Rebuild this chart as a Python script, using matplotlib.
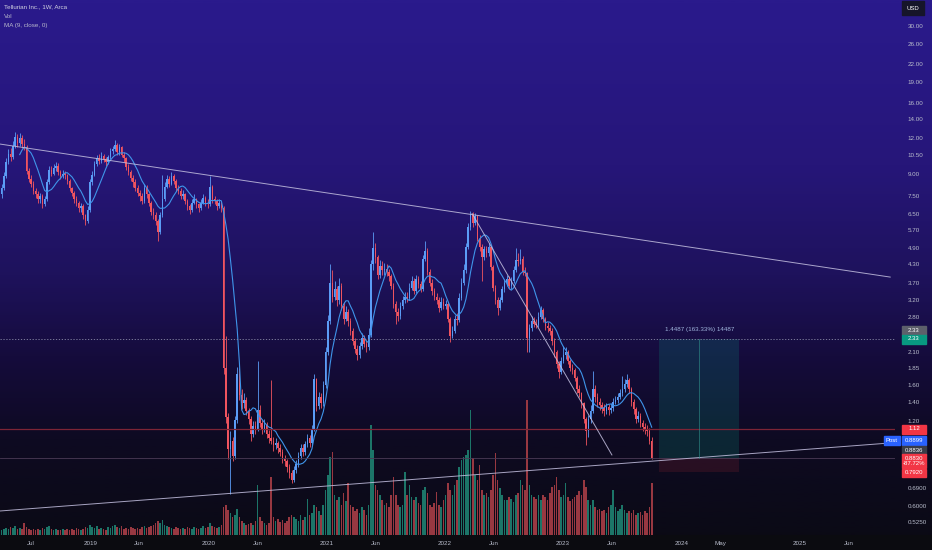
import numpy as np
import pandas as pd
import matplotlib
matplotlib.use('Agg')
import matplotlib.pyplot as plt
from matplotlib.colors import LinearSegmentedColormap
from matplotlib.patches import Rectangle
from matplotlib.ticker import NullLocator

plt.rcParams['font.family'] = ['Liberation Sans', 'DejaVu Sans']

# weekly bars, TELL, first bar week of 2018-04-02
start = '2018-04-02'
first_open = 7.6
closes = [
    8.0, 8.8, 9.9, 10.6, 10.3, 11.3, 12.1, 11.6, 12.0, 11.5,
    11.2, 9.2, 8.6, 8.3, 7.8, 7.6, 7.3, 7.5, 7.0, 7.3,
    8.4, 9.3, 9.0, 9.4, 9.6, 9.1, 8.8, 9.0, 8.9, 8.5,
    8.0, 7.7, 7.3, 7.1, 6.8, 6.9, 6.4, 6.1, 6.7, 8.4,
    8.9, 9.7, 10.2, 10.0, 10.4, 10.1, 9.9, 10.3, 10.8, 11.0,
    11.4, 10.7, 11.2, 10.5, 10.2, 9.5, 9.1, 8.7, 8.4, 8.0,
    7.7, 7.5, 7.2, 8.0, 7.6, 7.1, 6.6, 6.4, 6.1, 5.6,
    6.4, 7.3, 8.1, 8.6, 8.3, 8.8, 8.5, 8.0, 7.8, 7.5,
    7.6, 7.2, 6.9, 6.7, 7.1, 7.3, 7.0, 6.8, 7.1, 7.4,
    7.1, 7.0, 8.1, 7.3, 7.2, 6.9, 7.1, 6.8, 1.85, 1.24,
    0.95, 1.02, 0.90, 1.21, 1.75, 1.48, 1.38, 1.42, 1.30, 1.22,
    1.08, 1.15, 1.12, 1.31, 1.18, 1.12, 1.16, 1.08, 1.04, 1.02,
    0.98, 1.00, 0.96, 0.93, 0.88, 0.86, 0.82, 0.78, 0.74, 0.80,
    0.84, 0.90, 0.96, 0.93, 0.99, 1.04, 1.00, 1.12, 1.68, 1.35,
    1.45, 1.38, 1.60, 2.10, 2.70, 3.70, 3.30, 3.50, 3.20, 3.60,
    3.05, 2.75, 2.90, 2.70, 2.50, 2.30, 2.15, 2.05, 2.20, 2.35,
    2.25, 2.18, 2.42, 4.30, 4.90, 4.55, 3.95, 4.25, 4.10, 4.15,
    4.05, 3.90, 3.60, 3.10, 2.90, 2.82, 3.05, 3.20, 3.30, 3.25,
    3.55, 3.75, 3.45, 3.80, 3.65, 3.50, 4.50, 4.80, 4.05, 3.70,
    3.45, 3.30, 3.20, 3.00, 3.15, 3.05, 3.10, 2.75, 2.40, 2.50,
    2.75, 2.72, 3.25, 3.70, 4.10, 4.95, 5.80, 6.40, 6.00, 6.35,
    5.30, 4.95, 4.55, 4.85, 4.70, 4.95, 4.20, 3.55, 3.20, 3.00,
    3.20, 3.50, 3.70, 3.80, 3.60, 3.75, 4.10, 4.45, 4.40, 4.50,
    4.05, 4.00, 2.35, 2.55, 2.70, 2.65, 2.62, 2.80, 2.95, 2.75,
    2.60, 2.55, 2.50, 2.30, 2.10, 1.90, 1.78, 1.95, 2.05, 2.10,
    1.95, 1.85, 1.82, 1.70, 1.55, 1.50, 1.38, 1.22, 1.10, 1.22,
    1.30, 1.55, 1.45, 1.40, 1.36, 1.33, 1.30, 1.34, 1.31, 1.33,
    1.40, 1.42, 1.46, 1.50, 1.55, 1.62, 1.67, 1.55, 1.40, 1.32,
    1.22, 1.25, 1.18, 1.14, 1.12, 1.10, 1.02, 0.8836,
]
highs = [
    8.3, 9.1, 10.2, 11.0, 11.1, 11.7, 12.6, 12.4, 12.5, 12.3,
    11.9, 11.4, 9.4, 8.9, 8.5, 8.0, 7.8, 7.7, 7.6, 7.5,
    8.6, 9.6, 9.6, 9.7, 9.9, 9.8, 9.3, 9.3, 9.2, 9.0,
    8.6, 8.1, 7.8, 7.5, 7.2, 7.1, 7.0, 6.5, 6.9, 8.6,
    9.2, 10.0, 10.5, 10.6, 10.7, 10.6, 10.3, 10.5, 11.1, 11.3,
    11.8, 11.6, 11.5, 11.3, 10.7, 10.3, 9.7, 9.3, 8.9, 8.6,
    8.2, 7.9, 7.7, 8.3, 8.2, 7.7, 7.2, 6.8, 6.6, 6.2,
    6.6, 8.9, 8.4, 8.9, 8.8, 9.1, 9.0, 8.6, 8.2, 8.0,
    7.9, 7.7, 7.3, 7.0, 7.3, 7.6, 7.4, 7.1, 7.3, 7.6,
    7.5, 7.3, 8.8, 8.2, 7.5, 7.3, 7.3, 7.2, 6.9, 2.4,
    1.28, 1.10, 1.05, 1.25, 1.86, 1.84, 1.55, 1.50, 1.45, 1.33,
    1.25, 1.20, 1.20, 1.95, 1.36, 1.22, 1.22, 1.19, 1.11, 1.67,
    1.05, 1.04, 1.02, 0.99, 0.95, 0.91, 0.88, 0.84, 0.80, 0.83,
    0.87, 0.93, 0.99, 0.99, 1.02, 1.08, 1.07, 1.16, 1.75, 1.70,
    1.52, 1.50, 1.66, 2.18, 2.85, 4.30, 4.10, 3.75, 3.60, 3.85,
    3.70, 3.15, 3.05, 2.98, 2.78, 2.56, 2.36, 2.22, 2.28, 2.45,
    2.42, 2.32, 2.55, 4.45, 5.60, 5.10, 4.65, 4.45, 4.40, 4.35,
    4.30, 4.15, 3.98, 3.68, 3.18, 3.00, 3.15, 3.32, 3.42, 3.42,
    3.68, 3.90, 3.85, 3.95, 3.90, 3.75, 4.65, 5.20, 4.90, 4.15,
    3.80, 3.55, 3.40, 3.28, 3.28, 3.25, 3.22, 3.15, 2.80, 2.60,
    2.85, 2.88, 3.40, 3.85, 4.30, 5.10, 6.00, 6.62, 6.60, 6.55,
    6.40, 5.45, 5.05, 5.00, 5.00, 5.10, 5.00, 4.28, 3.62, 3.28,
    3.30, 3.60, 3.82, 3.95, 3.90, 3.88, 4.25, 4.90, 4.70, 4.85,
    4.60, 4.20, 4.05, 2.65, 2.82, 2.80, 2.75, 2.90, 3.05, 3.00,
    2.80, 2.68, 2.62, 2.55, 2.35, 2.14, 1.95, 2.02, 2.20, 2.18,
    2.14, 1.98, 1.90, 1.85, 1.72, 1.60, 1.52, 1.40, 1.24, 1.26,
    1.36, 1.80, 1.60, 1.50, 1.44, 1.40, 1.37, 1.38, 1.37, 1.38,
    1.44, 1.47, 1.50, 1.55, 1.72, 1.68, 1.75, 1.70, 1.58, 1.43,
    1.34, 1.30, 1.28, 1.21, 1.18, 1.16, 1.13, 1.05,
]
lows = [
    7.4, 7.9, 8.7, 9.7, 10.0, 10.1, 11.1, 11.2, 11.3, 11.1,
    10.9, 9.0, 8.4, 8.1, 7.6, 7.4, 7.1, 7.1, 6.8, 6.9,
    7.2, 8.3, 8.8, 8.9, 9.2, 8.9, 8.6, 8.7, 8.6, 8.3,
    7.8, 7.5, 7.1, 6.9, 6.6, 6.6, 6.2, 5.9, 6.0, 6.6,
    8.2, 8.8, 9.6, 9.7, 9.8, 9.9, 9.6, 9.7, 10.1, 10.6,
    10.8, 10.5, 10.5, 10.3, 9.9, 9.3, 8.9, 8.5, 8.1, 7.8,
    7.5, 7.2, 7.0, 7.1, 7.4, 6.9, 6.4, 6.2, 5.9, 5.2,
    5.5, 6.3, 7.2, 8.0, 8.1, 8.2, 8.3, 7.8, 7.6, 7.3,
    7.3, 7.0, 6.7, 6.5, 6.6, 7.0, 6.8, 6.6, 6.7, 7.0,
    6.9, 6.8, 6.9, 7.1, 7.0, 6.7, 6.8, 6.6, 1.75, 1.18,
    0.88, 0.66, 0.86, 0.88, 1.18, 1.42, 1.32, 1.33, 1.26, 1.17,
    1.02, 1.05, 1.08, 1.10, 1.14, 1.08, 1.09, 1.04, 1.00, 0.99,
    0.94, 0.95, 0.92, 0.90, 0.85, 0.83, 0.79, 0.75, 0.72, 0.73,
    0.78, 0.82, 0.88, 0.90, 0.91, 0.97, 0.97, 0.98, 1.10, 1.30,
    1.32, 1.33, 1.35, 1.56, 2.05, 2.65, 3.15, 3.20, 3.05, 3.10,
    2.95, 2.65, 2.70, 2.60, 2.42, 2.22, 2.08, 1.97, 2.00, 2.15,
    2.18, 2.10, 2.14, 2.38, 4.10, 4.35, 3.80, 3.85, 3.95, 3.95,
    3.90, 3.75, 3.50, 3.00, 2.65, 2.70, 2.76, 2.98, 3.12, 3.15,
    3.20, 3.48, 3.38, 3.40, 3.55, 3.42, 3.45, 4.40, 3.95, 3.60,
    3.35, 3.20, 3.10, 2.92, 2.95, 2.98, 2.98, 2.68, 2.28, 2.35,
    2.45, 2.62, 2.68, 3.20, 3.62, 4.00, 4.85, 5.70, 5.80, 5.90,
    5.20, 4.80, 3.75, 4.45, 4.55, 4.60, 4.10, 3.45, 3.10, 2.85,
    2.95, 3.15, 3.42, 3.60, 3.52, 3.52, 3.70, 4.05, 4.25, 4.30,
    3.95, 3.90, 2.10, 2.10, 2.50, 2.58, 2.55, 2.58, 2.75, 2.68,
    2.52, 2.48, 2.42, 2.22, 2.02, 1.84, 1.70, 1.75, 1.92, 1.98,
    1.90, 1.80, 1.76, 1.66, 1.50, 1.45, 1.33, 1.18, 0.98, 1.05,
    1.18, 1.28, 1.40, 1.34, 1.31, 1.28, 1.25, 1.27, 1.26, 1.28,
    1.30, 1.37, 1.39, 1.43, 1.47, 1.52, 1.58, 1.50, 1.35, 1.27,
    1.18, 1.19, 1.14, 1.10, 1.08, 1.06, 0.99, 0.875,
]
# weekly volume, millions of shares
volumes = [
    5, 6, 7, 6, 8, 7, 9, 6, 7, 6,
    12, 8, 6, 5, 6, 5, 6, 5, 7, 6,
    8, 9, 6, 5, 6, 5, 5, 6, 5, 6,
    5, 6, 5, 7, 6, 5, 6, 8, 7, 10,
    8, 7, 9, 6, 7, 6, 5, 8, 7, 9,
    10, 8, 7, 9, 6, 7, 6, 8, 7, 6,
    7, 6, 8, 9, 7, 8, 9, 10, 12, 14,
    12, 15, 10, 9, 8, 7, 6, 8, 7, 6,
    7, 6, 8, 7, 6, 8, 7, 6, 7, 9,
    7, 8, 12, 9, 8, 7, 8, 10, 28, 30,
    25, 22, 18, 20, 26, 18, 14, 12, 10, 11,
    12, 10, 14, 50, 18, 14, 12, 10, 12, 58,
    18, 14, 16, 13, 15, 12, 14, 18, 20, 18,
    16, 14, 20, 15, 18, 36, 20, 22, 30, 28,
    24, 20, 30, 45, 60, 78, 83, 40, 35, 38,
    30, 42, 34, 52, 30, 28, 24, 26, 22, 28,
    25, 20, 30, 110, 85, 50, 45, 40, 35, 30,
    32, 28, 40, 58, 40, 30, 28, 30, 63, 40,
    50, 38, 35, 38, 32, 30, 45, 48, 42, 30,
    28, 32, 43, 30, 28, 35, 40, 52, 45, 40,
    50, 55, 68, 75, 78, 80, 85, 125, 77, 60,
    55, 70, 45, 40, 42, 38, 45, 60, 82, 55,
    47, 40, 35, 35, 38, 36, 33, 40, 42, 55,
    50, 45, 135, 50, 40, 38, 36, 40, 35, 40,
    38, 35, 42, 48, 50, 58, 45, 38, 40, 52,
    38, 34, 36, 38, 40, 44, 40, 55, 48, 35,
    30, 35, 28, 25, 26, 24, 25, 22, 28, 30,
    45, 28, 24, 26, 30, 25, 22, 24, 22, 25,
    20, 22, 23, 20, 24, 22, 28, 52,
]

price_ticks = [30, 26, 22, 19, 16, 14, 12, 10.5, 9, 7.5, 6.5, 5.7, 4.9, 4.3,
               3.7, 3.2, 2.8, 2.1, 1.85, 1.6, 1.4, 1.2, 0.69, 0.6, 0.525]
time_ticks = ['2018-07-01', '2019-01-01', '2019-06-01', '2020-01-01', '2020-06-01',
              '2021-01-01', '2021-06-01', '2022-01-01', '2022-06-01', '2023-01-01',
              '2023-06-01', '2024-01-01', '2024-05-01', '2025-01-01', '2025-06-01']
time_labels = ['Jul', '2019', 'Jun', '2020', 'Jun', '2021', 'Jun', '2022', 'Jun',
               '2023', 'Jun', '2024', 'May', '2025', 'Jun']

# drawings
upper_line = (['2018-03-27', '2025-10-08'], [11.46, 3.87])
lower_line = (['2018-03-27', '2025-10-08'], [0.574, 1.0])
fall_line = (['2022-03-26', '2023-06-01'], [6.5, 0.907])
alert_level = 1.12
last_price = 0.8836
target, entry, stop = 2.33, 0.8830, 0.7920
pos_dates = ['2023-10-23', '2024-02-26', '2024-06-29']
pos_text = '1.4487 (163.33%) 14487'

W, H = 932, 550


def idx(d):
    return (pd.Timestamp(d) - pd.Timestamp(start)).days / 7


opens = [first_open] + closes[:-1]
x = np.arange(len(closes))
up = np.array(closes) >= np.array(opens)
ma = pd.Series(closes).rolling(9).mean()

fig = plt.figure(figsize=(W / 100, H / 100), dpi=100)

# gradient background
bg = fig.add_axes([0, 0, 1, 1])
bg.axis('off')
cmap = LinearSegmentedColormap.from_list('bg', [
    (0.0, '#2a1a8c'), (0.3, '#261679'), (0.5, '#1e125c'),
    (0.65, '#150c3c'), (0.8, '#0e0a22'), (1.0, '#0b0a14')])
bg.imshow(np.linspace(0, 1, 300).reshape(-1, 1), aspect='auto', cmap=cmap,
          extent=[0, 1, 0, 1])
bg.set_xlim(0, 1)
bg.set_ylim(0, 1)
bg.add_patch(Rectangle((0, 0), 1, 15 / H, color='#0b0b10', zorder=3))

rect = [0, 15 / H, 895 / W, 535 / H]
vax = fig.add_axes(rect)
ax = fig.add_axes(rect, sharex=vax)
ax.set_facecolor('none')
vax.set_facecolor('none')

# volume
vcol = np.where(up, '#1c7568', '#983841')
vax.bar(x, volumes, width=0.7, color=vcol, linewidth=0)
vax.set_ylim(0, 535)
vax.axis('off')

# candles
ccol = np.where(up, '#5b9cf6', '#f0545f')
ax.vlines(x, lows, highs, colors=ccol, lw=0.6)
body_lo = np.minimum(opens, closes)
body_hi = np.maximum(opens, closes)
ax.bar(x, body_hi - body_lo, bottom=body_lo, width=0.66, color=ccol, linewidth=0)
ax.plot(x, ma, color='#3f95ea', lw=0.8)

ax.set_yscale('log')
ax.set_ylim(0.472, 37.1)
ax.set_xlim(-0.706, 394.4)

# lines and drawings
ax.axhline(alert_level, color='#7d2436', lw=0.9)
ax.axhline(last_price, color='#4b3b55', lw=0.6)
ax.axhline(target, color='#8a8aa8', lw=0.6, ls=(0, (1.5, 2)))
for dates, prices in (upper_line, lower_line, fall_line):
    ax.plot([idx(d) for d in dates], prices, color='#c4c0e0', lw=0.7,
            alpha=0.85, clip_on=False)

x0, xm, x1 = [idx(d) for d in pos_dates]
ax.add_patch(Rectangle((x0, entry), x1 - x0, target - entry,
                       facecolor='#089981', alpha=0.2, linewidth=0))
ax.add_patch(Rectangle((x0, stop), x1 - x0, entry - stop,
                       facecolor='#f23645', alpha=0.12, linewidth=0))
ax.plot([xm, xm], [entry, target], color='#2f8f8a', lw=0.6, alpha=0.7)
ax.annotate(pos_text, (xm, target), xytext=(0, 5), textcoords='offset points',
            ha='center', va='bottom', fontsize=4.5, color='#9fb4dc')

# axes
for s in ax.spines.values():
    s.set_visible(False)
ax.yaxis.tick_right()
ax.set_yticks(price_ticks, [f'{v:.2f}' if v >= 1 else f'{v:.4f}' for v in price_ticks])
ax.yaxis.set_minor_locator(NullLocator())
ax.tick_params(axis='y', length=0, pad=9, labelsize=4.5, labelcolor='#b8bccb')
ax.set_xticks([idx(d) for d in time_ticks], time_labels)
ax.tick_params(axis='x', length=0, pad=4, labelsize=4.5, labelcolor='#b8bccb')


# price tags on the right scale
def tag(ypx, text, face, xl=902, w=24, h=9, tc='white'):
    fig.patches.append(Rectangle((xl / W, 1 - (ypx + h / 2) / H), w / W, h / H,
                                 transform=fig.transFigure, color=face, zorder=5))
    fig.text((xl + w / 2) / W, 1 - ypx / H, text, ha='center', va='center',
             fontsize=4.3, color=tc, zorder=6)


tag(8, 'USD', '#16152a', w=22, h=13)
tag(330, '2.33', '#5d606b')
tag(339, '2.33', '#089981')
tag(429, '1.12', '#f23645')
tag(440.5, 'Post', '#2962ff', xl=884, w=16)
tag(440.5, '0.8899', '#2962ff')
tag(450, '0.8836', '#3a3c48')
tag(461, '0.8830\n-87.72%', '#f23645', h=14)
tag(473, '0.7920', '#f23645', h=8)

# legend text top left
fig.text(4 / W, 1 - 7 / H, 'Tellurian Inc., 1W, Arca', fontsize=4.5,
         color='#d0d0e0', va='center')
fig.text(4 / W, 1 - 16 / H, 'Vol', fontsize=4.5, color='#b8b8cc', va='center')
fig.text(4 / W, 1 - 25 / H, 'MA (9, close, 0)', fontsize=4.5, color='#b8b8cc', va='center')

fig.savefig('out.png', dpi=100)
